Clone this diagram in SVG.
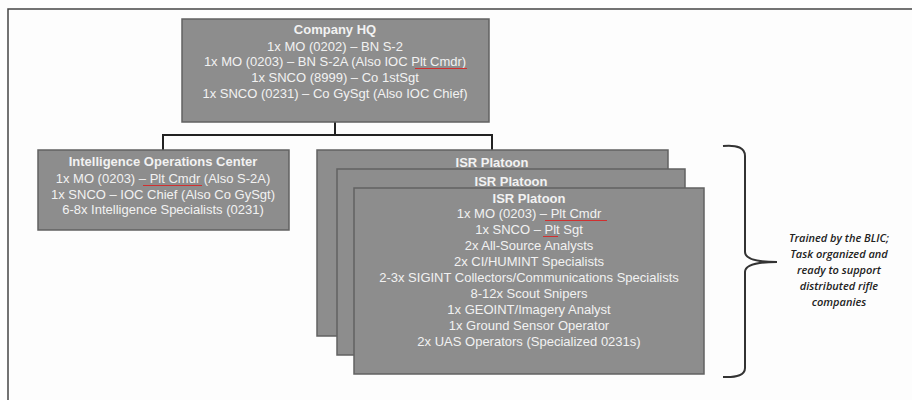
<svg xmlns="http://www.w3.org/2000/svg" width="912" height="400" viewBox="0 0 912 400">
<style>
.box{fill:#8d8d8d;stroke:#626262;stroke-width:1.5}
.t{font-family:"Liberation Sans",Arial,sans-serif;font-size:13px;fill:#f2f2f2;text-anchor:middle}
.b{font-weight:bold}
.conn{fill:none;stroke:#222;stroke-width:2}
.sq{fill:none;stroke:#d03030;stroke-width:1.2}
.note{font-family:"Open Sans",Lato,sans-serif;font-style:italic;font-weight:600;font-size:11px;fill:#222;text-anchor:middle}
</style>
<rect x="0" y="0" width="912" height="400" fill="#fdfdfd"/>
<rect x="8" y="9" width="920" height="420" fill="none" stroke="#444" stroke-width="1.5"/>
<g id="connectors">
<path class="conn" d="M335 122 V135 M163 150 V135 H492 V150"/>
<path d="M723 146 Q745 144 745 156 V252 Q745 262 777 262 Q745 262 745 272 V368 Q745 378 723 377" fill="none" stroke="#333" stroke-width="2"/>
</g>
<g id="company-hq">
<rect class="box" x="182" y="19" width="307" height="103"/>
<text class="t b" x="335" y="34">Company HQ</text>
<text class="t" x="335" y="51">1x MO (0202) – BN S-2</text>
<text class="t" x="335" y="66">1x MO (0203) – BN S-2A (Also IOC Plt Cmdr)</text>
<text class="t" x="335" y="82">1x SNCO (8999) – Co 1stSgt</text>
<text class="t" x="335" y="98">1x SNCO (0231) – Co GySgt (Also IOC Chief)</text>
<path class="sq" d="M415 68.5 H467"/>
</g>
<g id="ioc">
<rect class="box" x="38" y="150" width="251" height="80"/>
<text class="t b" x="163" y="166">Intelligence Operations Center</text>
<text class="t" x="163" y="183">1x MO (0203) – Plt Cmdr (Also S-2A)</text>
<text class="t" x="163" y="199">1x SNCO – IOC Chief (Also Co GySgt)</text>
<text class="t" x="163" y="214">6-8x Intelligence Specialists (0231)</text>
<path class="sq" d="M143 185.5 H202"/>
</g>
<g id="isr-platoon-1">
<rect class="box" x="317" y="150" width="351" height="186"/>
<text class="t b" x="492" y="167">ISR Platoon</text>
</g>
<g id="isr-platoon-2">
<rect class="box" x="337" y="169" width="348" height="186"/>
<text class="t b" x="511" y="186">ISR Platoon</text>
</g>
<g id="isr-platoon-3">
<rect class="box" x="354" y="188" width="350" height="186"/>
<text class="t b" x="529" y="203">ISR Platoon</text>
<text class="t" x="529" y="218">1x MO (0203) – Plt Cmdr</text>
<text class="t" x="529" y="234">1x SNCO – Plt Sgt</text>
<text class="t" x="529" y="250">2x All-Source Analysts</text>
<text class="t" x="529" y="266">2x CI/HUMINT Specialists</text>
<text class="t" x="529" y="282">2-3x SIGINT Collectors/Communications Specialists</text>
<text class="t" x="529" y="298">8-12x Scout Snipers</text>
<text class="t" x="529" y="314">1x GEOINT/Imagery Analyst</text>
<text class="t" x="529" y="330">1x Ground Sensor Operator</text>
<text class="t" x="529" y="346">2x UAS Operators (Specialized 0231s)</text>
<path class="sq" d="M545 220.5 H607 M543 236.5 H558"/>
</g>
<g id="note">
<text class="note" x="839" y="242">Trained by the BLIC;</text>
<text class="note" x="839" y="258">Task organized and</text>
<text class="note" x="839" y="274">ready to support</text>
<text class="note" x="839" y="290">distributed rifle</text>
<text class="note" x="839" y="306">companies</text>
</g>
</svg>
